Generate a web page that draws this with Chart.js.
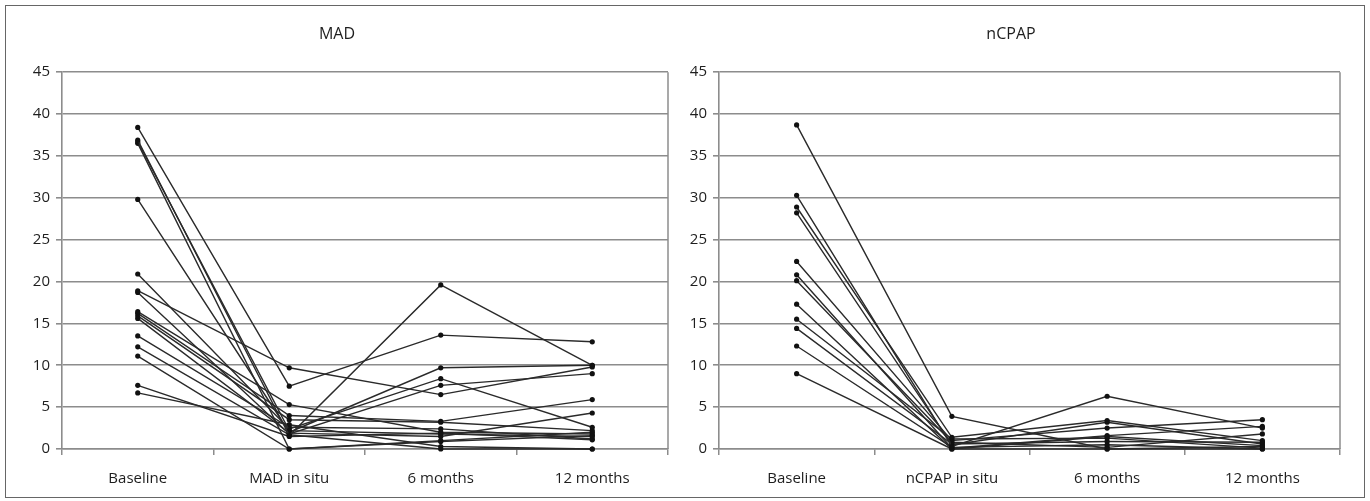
<!DOCTYPE html>
<html>
<head>
<meta charset="utf-8">
<script src="https://cdn.jsdelivr.net/npm/chart.js@4/dist/chart.umd.min.js"></script>
<style>
    html, body { margin: 0; padding: 0; background: #fff; }
    #frame { position: absolute; left: 5px; top: 5px; width: 1358px; height: 491px; border: 1px solid #666; }
    .panel { position: absolute; top: 0; height: 491px; }
</style>
</head>
<body>
<div id="frame">
    <div class="panel" style="left:0;width:676px"><canvas id="madChart"></canvas></div>
    <div class="panel" style="left:676px;width:682px"><canvas id="cpapChart"></canvas></div>
</div>
<script>
/* ── Data: one value per patient at each time point ── */
var madCategories  = ['Baseline', 'MAD in situ', '6 months', '12 months'];
var madBaseline    = [38.4, 36.9, 36.7, 36.5, 29.8, 20.9, 18.9, 18.7, 16.4, 16.2, 15.9, 15.6, 13.5, 12.2, 11.1, 7.6, 6.7];
var madInSitu      = [7.5, 1.6, 2.2, 0.0, 2.0, 2.4, 9.7, 1.8, 5.3, 4.0, 3.5, 1.9, 2.6, 1.7, 0.0, 1.5, 2.9];
var mad6Months     = [13.6, 19.6, 1.8, 1.0, 9.7, 8.4, 6.5, 7.6, 2.0, 3.3, 3.2, 1.5, 2.4, 0.0, 0.9, 1.9, 0.3];
var mad12Months    = [12.8, 10.0, 1.5, 2.0, 10.0, 2.6, 9.8, 9.0, 1.8, 5.9, 2.2, 4.3, 1.2, 0.0, 1.6, 1.1, 0.0];

var cpapCategories = ['Baseline', 'nCPAP in situ', '6 months', '12 months'];
var cpapBaseline   = [38.7, 30.3, 28.9, 28.2, 22.4, 20.8, 20.1, 17.3, 15.5, 14.4, 12.3, 9.0];
var cpapInSitu     = [3.9, 0.3, 1.4, 0.5, 1.0, 0.1, 0.8, 0.0, 1.2, 0.6, 0.2, 0.0];
var cpap6Months    = [0.0, 6.3, 3.4, 3.2, 2.5, 1.6, 0.2, 1.5, 1.3, 0.9, 0.5, 0.0];
var cpap12Months   = [0.3, 2.5, 1.0, 0.6, 3.5, 2.7, 1.8, 0.4, 0.1, 0.8, 0.0, 0.0];

var yTicks = [0, 5, 10, 15, 20, 25, 30, 35, 40, 45];

// ── Styles ──
var TEXT = '#1e1e1e';
var GRID = '#8c8c8c';
var LINE = '#2a2a2a';
var DOT = '#111111';
var FONT = "'Open Sans', sans-serif";

// vertical line on the right edge of the plot area
var plotFrame = {
    id: 'plotFrame',
    beforeDatasetsDraw: function (chart) {
        var a = chart.chartArea, ctx = chart.ctx;
        ctx.save();
        ctx.strokeStyle = GRID;
        ctx.lineWidth = 1.5;
        ctx.beginPath();
        ctx.moveTo(a.right, a.top);
        ctx.lineTo(a.right, a.bottom);
        ctx.stroke();
        ctx.restore();
    }
};

function makePanel(canvasId, title, categories, columns, yWidth, padRight) {
    var datasets = [];
    for (var i = 0; i < columns[0].length; i++) {
        datasets.push({
            data: columns.map(function (col) { return col[i]; }),
            borderColor: LINE,
            borderWidth: 1.4,
            pointRadius: 2.6,
            pointBackgroundColor: DOT,
            pointBorderWidth: 0,
            tension: 0,
            clip: false
        });
    }

    return new Chart(document.getElementById(canvasId), {
        type: 'line',
        data: { labels: categories, datasets: datasets },
        options: {
            responsive: true,
            maintainAspectRatio: false,
            animation: false,
            layout: { padding: { left: 0, right: padRight, top: 0, bottom: 0 } },
            plugins: {
                legend: { display: false },
                tooltip: { enabled: false },
                title: {
                    display: true,
                    text: title,
                    color: TEXT,
                    font: { family: FONT, size: 16, weight: 'normal' },
                    padding: { top: 19, bottom: 28 }
                }
            },
            scales: {
                x: {
                    offset: true,
                    grid: { offset: true, drawOnChartArea: false, tickLength: 6, color: GRID, lineWidth: 1.5 },
                    border: { display: true, color: GRID, width: 1.5 },
                    ticks: { color: TEXT, font: { family: FONT, size: 15 }, padding: 15, maxRotation: 0 },
                    afterFit: function (scale) { scale.height = 48; }
                },
                y: {
                    min: 0,
                    max: 45,
                    afterBuildTicks: function (scale) {
                        scale.ticks = yTicks.map(function (v) { return { value: v }; });
                    },
                    grid: { color: GRID, lineWidth: 1.6, tickLength: 6 },
                    border: { display: true, color: GRID, width: 1.6 },
                    ticks: { color: TEXT, font: { family: FONT, size: 15 }, padding: 6 },
                    afterFit: function (scale) { scale.width = yWidth; }
                }
            }
        },
        plugins: [plotFrame]
    });
}

makePanel('madChart', 'MAD', madCategories,
    [madBaseline, madInSitu, mad6Months, mad12Months], 56, 14);
makePanel('cpapChart', 'nCPAP', cpapCategories,
    [cpapBaseline, cpapInSitu, cpap6Months, cpap12Months], 37, 24);
</script>
</body>
</html>
